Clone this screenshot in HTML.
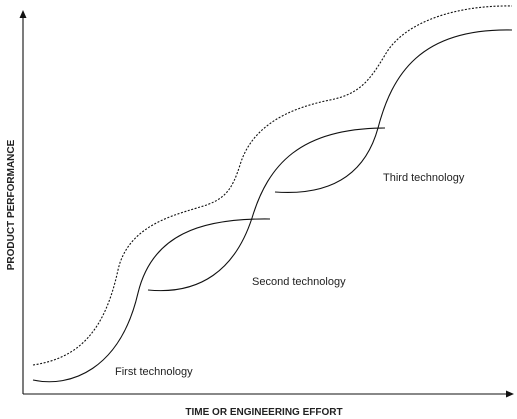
<!DOCTYPE html>
<html><head><style>
html,body{margin:0;padding:0;background:#fff;}
svg{display:block;}
text{font-family:"Liberation Sans",sans-serif;fill:#222;}
</style></head><body>
<svg width="517" height="419" viewBox="0 0 517 419" xmlns="http://www.w3.org/2000/svg">
<g stroke="#111" fill="none" stroke-width="1.1">
<line x1="23" y1="394" x2="23" y2="16"/>
<line x1="23" y1="394" x2="508" y2="394"/>
<path d="M33,380 C70,388 120,370 138,293 C152,235 200,218 270,219"/>
<path d="M148,290 C200,295 235,270 252,218 C268,165 300,128 385,128"/>
<path d="M275,192 C330,196 365,175 378,128 C392,75 420,28 512,30"/>
<path d="M33,365 C80,358 105,330 118,270 C128,225 175,215 200,207 C225,200 232,190 240,165 C252,125 290,108 330,100 C360,94 370,80 385,55 C405,20 460,5 512,6" stroke-dasharray="2,1.6"/>
</g>
<polygon points="23,10 19.5,18 26.5,18" fill="#111"/>
<polygon points="514,394 506,390.5 506,397.5" fill="#111"/>
<text x="115" y="375" font-size="11">First technology</text>
<text x="252" y="285" font-size="11">Second technology</text>
<text x="383" y="181" font-size="11">Third technology</text>
<text x="264" y="415" font-size="10" font-weight="bold" text-anchor="middle">TIME OR ENGINEERING EFFORT</text>
<text transform="translate(14,205) rotate(-90)" font-size="10" font-weight="bold" text-anchor="middle">PRODUCT PERFORMANCE</text>
</svg>
</body></html>
